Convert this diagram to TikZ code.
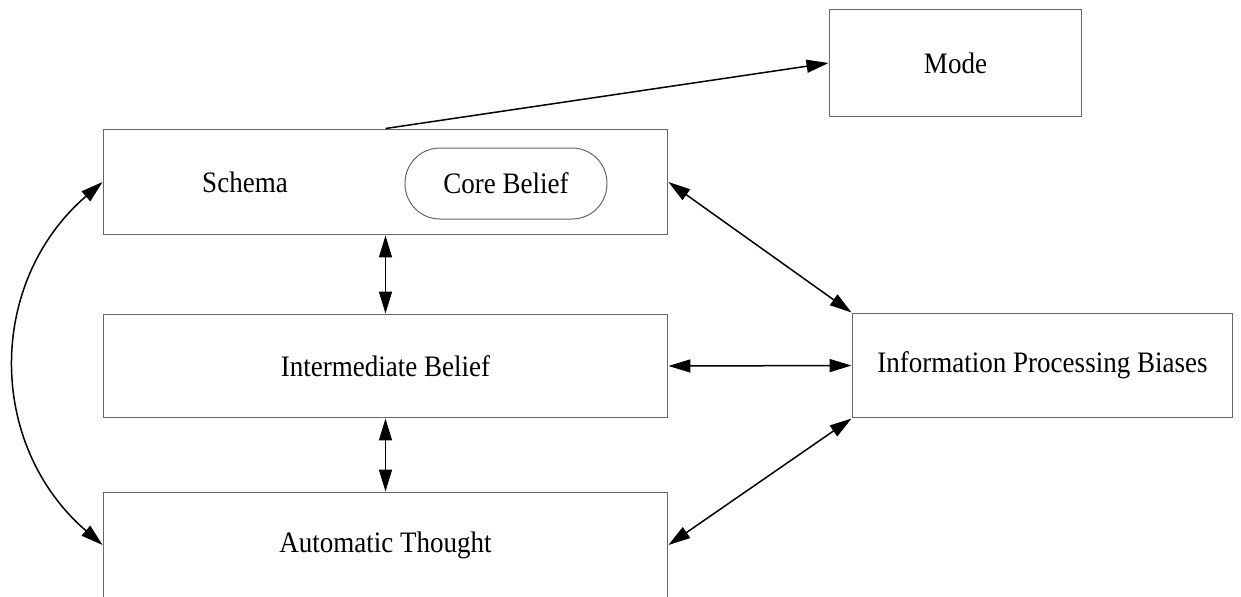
\documentclass[tikz,border=0pt]{standalone}
\usepackage{fontspec}
\setmainfont[FakeStretch=0.91]{Liberation Serif}
\usetikzlibrary{arrows.meta}
\begin{document}
\begin{tikzpicture}[x=0.02cm, y=-0.02cm,
        box/.style={draw=black!60, line width=0.02cm, inner sep=0pt, font=\fontsize{16.9}{19}\selectfont},
        label text/.style={inner sep=0pt, font=\fontsize{16.9}{19}\selectfont},
        link/.style={line width=0.03cm, -{Triangle[length=0.44cm, width=0.26cm]}},
        dbllink/.style={line width=0.03cm, {Triangle[length=0.44cm, width=0.26cm]}-{Triangle[length=0.44cm, width=0.26cm]}}]
        \useasboundingbox (0,0) rectangle (1241,596);
        % Draw boxes
        \node [box, minimum width=5.06cm, minimum height=2.16cm] (mode) at (955.5,63) {Mode};
        \node [box, minimum width=11.3cm, minimum height=2.12cm] (schema) at (385.5,182) {};
        \node [label text] (schemalabel) at (245,182) {Schema};
        \node [box, minimum width=4.04cm, minimum height=1.42cm, rounded corners=0.7cm] (core) at (506,183.5) {Core Belief};
        \node [box, minimum width=11.3cm, minimum height=2.08cm] (inter) at (385.5,366) {Intermediate Belief};
        \node [box, minimum width=11.3cm, minimum height=2.12cm] (auto) at (385.5,545) {Automatic Thought};
        \node [box, minimum width=7.62cm, minimum height=2.1cm] (ipb) at (1042.5,365.5) {Information Processing Biases};
        % Draw links
        \draw [link] (schema.north) -- (mode.west);
        \foreach \a/\b in {schema/inter, inter/auto} {
            \draw [dbllink] (\a.south) -- (\b.north);
        }
        \foreach \a/\b in {schema/north west, inter/west, auto/south west} {
            \draw [dbllink] (\a.east) -- (ipb.\b);
        }
        \draw [dbllink] (schema.west) .. controls +(-116,100) and +(-116,-100) .. (auto.west);
    \end{tikzpicture}
\end{document}
